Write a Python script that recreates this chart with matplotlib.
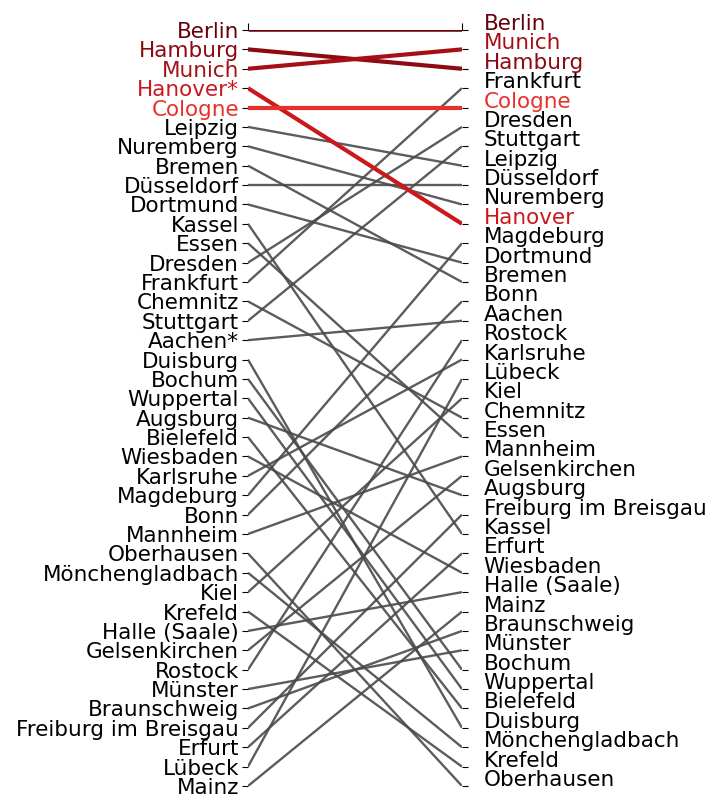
import matplotlib
matplotlib.use("Agg")
import matplotlib.pyplot as plt

left_cities = ["Berlin", "Hamburg", "Munich", "Hanover*", "Cologne", "Leipzig", "Nuremberg",
               "Bremen", "Düsseldorf", "Dortmund", "Kassel", "Essen", "Dresden", "Frankfurt",
               "Chemnitz", "Stuttgart", "Aachen*", "Duisburg", "Bochum", "Wuppertal", "Augsburg",
               "Bielefeld", "Wiesbaden", "Karlsruhe", "Magdeburg", "Bonn", "Mannheim",
               "Oberhausen", "Mönchengladbach", "Kiel", "Krefeld", "Halle (Saale)",
               "Gelsenkirchen", "Rostock", "Münster", "Braunschweig", "Freiburg im Breisgau",
               "Erfurt", "Lübeck", "Mainz"]
right_cities = ["Berlin", "Munich", "Hamburg", "Frankfurt", "Cologne", "Dresden", "Stuttgart",
                "Leipzig", "Düsseldorf", "Nuremberg", "Hanover", "Magdeburg", "Dortmund",
                "Bremen", "Bonn", "Aachen", "Rostock", "Karlsruhe", "Lübeck", "Kiel", "Chemnitz",
                "Essen", "Mannheim", "Gelsenkirchen", "Augsburg", "Freiburg im Breisgau",
                "Kassel", "Erfurt", "Wiesbaden", "Halle (Saale)", "Mainz", "Braunschweig",
                "Münster", "Bochum", "Wuppertal", "Bielefeld", "Duisburg", "Mönchengladbach",
                "Krefeld", "Oberhausen"]
highlight_colors = {"Berlin": "#67000d", "Hamburg": "#8c0a12", "Munich": "#a50f15",
                    "Hanover": "#cb181d", "Cologne": "#e8302a"}
highlight_widths = {"Berlin": 1.8, "Hamburg": 3.0, "Munich": 3.0, "Hanover": 3.0, "Cologne": 3.0}

def key(name):
    return name.rstrip("*")

fig = plt.figure(figsize=(7.18, 7.97), dpi=100)
W, H = 718, 797
x0, x1 = 248, 462
ytop, ybot = 30, 786
ax = fig.add_axes([x0 / W, 1 - ybot / H, (x1 - x0) / W, (ybot - ytop) / H])
n = len(left_cities)
ranks = list(range(1, n + 1))

right_rank = {key(c): i + 1 for i, c in enumerate(right_cities)}
for i, c in enumerate(left_cities):
    k = key(c)
    lr = i + 1
    rr = right_rank[k]
    if k in highlight_colors:
        ax.plot([0, 1], [lr, rr], color=highlight_colors[k], lw=highlight_widths[k],
                zorder=3, solid_capstyle="butt")
    else:
        ax.plot([0, 1], [lr, rr], color="#4a4a4a", lw=1.7, alpha=0.9, zorder=2,
                solid_capstyle="butt")

fs = 15.5
ax.set_xlim(0, 1)
ax.set_ylim(n, 1)
ax.set_yticks(ranks)
ax.set_yticklabels(left_cities, fontsize=fs)
for lab, c in zip(ax.get_yticklabels(), left_cities):
    lab.set_color(highlight_colors.get(key(c), "black"))
ax.tick_params(axis="y", length=4.5, pad=2)
ax.xaxis.tick_top()
ax.set_xticks([0, 1])
ax.set_xticklabels([])
ax.tick_params(axis="x", length=5)
for s in ax.spines.values():
    s.set_visible(False)

ax2 = ax.twinx()
ax2.set_ylim(n, 1)
ax2.set_yticks(ranks)
ax2.set_yticklabels(right_cities, fontsize=fs, va="baseline")
for lab, c in zip(ax2.get_yticklabels(), right_cities):
    lab.set_color(highlight_colors.get(key(c), "black"))
ax2.tick_params(axis="y", length=4.5, pad=11)
for s in ax2.spines.values():
    s.set_visible(False)

fig.savefig("out.png", dpi=100)
